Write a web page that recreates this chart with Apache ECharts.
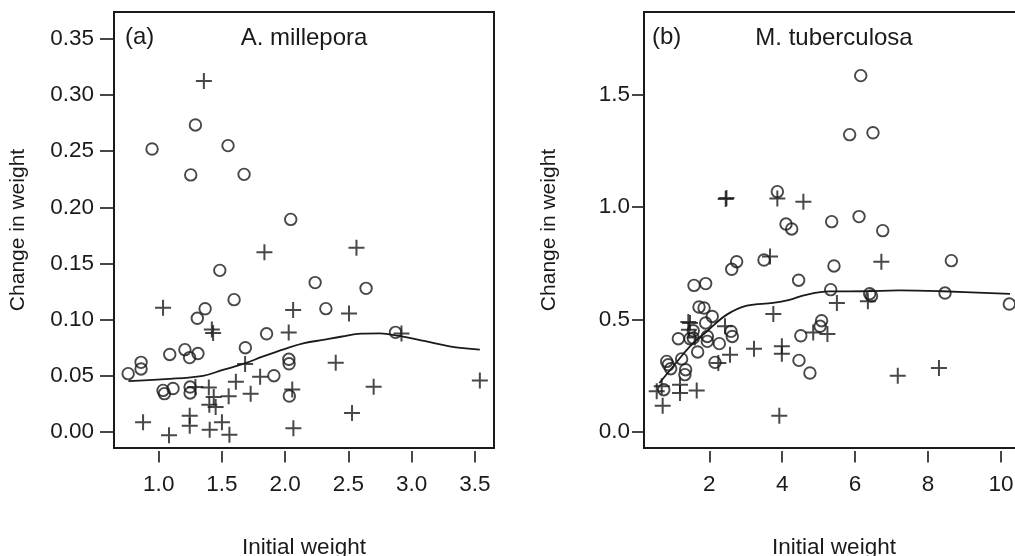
<!DOCTYPE html>
<html>
<head>
<meta charset="utf-8">
<script src="https://cdn.jsdelivr.net/npm/echarts@6/dist/echarts.min.js"></script>
<style>html,body{margin:0;padding:0;background:#fff;}#c{width:1015px;height:556px;}</style>
</head>
<body>
<div id="c"></div>
<script>
// Panel (a) A. millepora
const aCircles = [[0.947,0.252],[1.29,0.2734],[1.548,0.255],[1.253,0.2289],[1.675,0.2294],[2.044,0.1893],[1.483,0.1439],[2.237,0.133],[2.64,0.1279],[1.596,0.1178],[1.367,0.1097],[1.305,0.1012],[2.322,0.1098],[1.853,0.0874],[2.873,0.0887],[1.685,0.075],[1.087,0.069],[1.207,0.0733],[1.244,0.0662],[1.31,0.0698],[0.86,0.062],[0.86,0.0561],[0.758,0.0519],[2.029,0.0647],[2.031,0.0607],[1.911,0.0501],[2.033,0.032],[1.034,0.037],[1.045,0.0341],[1.113,0.0387],[1.248,0.040],[1.248,0.0347]];
const aPlus = [[1.357,0.3125],[1.836,0.160],[2.564,0.1641],[1.034,0.1105],[1.42,0.0912],[1.43,0.0882],[2.063,0.1085],[2.505,0.1055],[2.028,0.0885],[2.92,0.0877],[3.54,0.0458],[1.683,0.0605],[2.40,0.0617],[1.61,0.0448],[1.802,0.0492],[1.727,0.034],[1.553,0.0317],[1.435,0.0312],[2.70,0.0403],[2.056,0.0377],[2.529,0.0169],[2.065,0.0032],[1.29,0.040],[1.396,0.0395],[1.40,0.0243],[1.45,0.0223],[1.245,0.0145],[1.245,0.0056],[0.876,0.0086],[1.081,-0.003],[1.403,0.002],[1.50,0.0086],[1.559,-0.0024]];
const aCurveX = [0.76,1.05,1.35,1.5,1.68,1.82,2.0,2.15,2.3,2.45,2.6,2.75,2.9,3.1,3.3,3.54];
const aCurveY = [0.0452,0.047,0.050,0.055,0.061,0.067,0.074,0.079,0.082,0.085,0.0875,0.0877,0.0855,0.081,0.0762,0.0733];
const aXTicks = [1.0,1.5,2.0,2.5,3.0,3.5];
const aYTicks = [0.00,0.05,0.10,0.15,0.20,0.25,0.30,0.35];

// Panel (b) M. tuberculosa
const bCircles = [[6.154,1.585],[5.85,1.3225],[6.49,1.331],[3.866,1.069],[4.104,0.925],[4.26,0.903],[5.357,0.9355],[6.107,0.958],[6.757,0.8955],[3.50,0.765],[8.64,0.762],[2.75,0.7575],[2.614,0.7235],[5.42,0.7385],[1.58,0.652],[1.90,0.66],[4.45,0.675],[5.33,0.633],[6.40,0.615],[6.45,0.605],[8.466,0.618],[10.23,0.569],[5.08,0.495],[5.04,0.47],[4.51,0.428],[4.46,0.3185],[4.76,0.2624],[2.156,0.3096],[2.275,0.393],[2.595,0.4475],[2.63,0.425],[1.717,0.556],[1.855,0.5515],[2.08,0.514],[1.90,0.485],[1.56,0.45],[1.56,0.418],[1.47,0.415],[1.15,0.415],[1.945,0.425],[1.945,0.403],[1.68,0.356],[0.83,0.314],[0.875,0.299],[0.94,0.2815],[1.24,0.325],[1.35,0.277],[1.33,0.255],[0.75,0.188]];
const bPlus = [[2.45,1.036],[2.47,1.041],[3.866,1.039],[4.58,1.024],[3.665,0.780],[6.72,0.7575],[6.35,0.581],[5.50,0.574],[3.756,0.525],[4.85,0.443],[5.24,0.436],[3.226,0.3705],[3.99,0.381],[3.99,0.348],[7.17,0.2504],[8.30,0.2847],[3.92,0.0725],[2.568,0.344],[2.247,0.307],[2.43,0.47],[1.424,0.489],[1.47,0.485],[1.44,0.455],[1.6,0.42],[0.557,0.181],[0.694,0.203],[1.196,0.21],[1.196,0.1735],[1.654,0.185],[0.72,0.117]];
const bCurveX = [0.63,1.0,1.47,1.93,2.48,3.03,3.75,4.2,4.65,5.3,6.3,7.2,8.4,10.25];
const bCurveY = [0.218,0.29,0.381,0.447,0.522,0.562,0.574,0.588,0.61,0.625,0.626,0.63,0.626,0.614];
const bXTicks = [2,4,6,8,10];
const bYTicks = [0.0,0.5,1.0,1.5];

const INK = '#1a1a1a';
const FONT = 'Liberation Sans, Arial, Helvetica, sans-serif';
const PLUS = 'path://M0,8L16,8M8,0L8,16';

function zip(xs, ys){ return xs.map((x,i)=>[x, ys[i]]); }

function xAxisCfg(idx, min, max, ticks, dec){
  return {
    type:'value', gridIndex:idx, min:min, max:max, offset:3,
    name:'Initial weight', nameLocation:'middle', nameGap:85,
    nameTextStyle:{color:INK, fontSize:22.5, fontFamily:FONT},
    axisLine:{show:false, onZero:false},
    splitLine:{show:false},
    axisTick:{show:true, inside:false, length:11.5, customValues:ticks, lineStyle:{color:INK, width:1.6}},
    axisLabel:{show:true, margin:22, customValues:ticks, color:INK, fontSize:22.5, fontFamily:FONT,
      formatter:(v)=>v.toFixed(dec)}
  };
}
function yAxisCfg(idx, min, max, ticks, dec, tickLen, margin, gap){
  return {
    type:'value', gridIndex:idx, min:min, max:max,
    name:'Change in weight', nameLocation:'middle', nameGap:gap, nameRotate:90,
    nameTextStyle:{color:INK, fontSize:21, fontFamily:FONT},
    axisLine:{show:false, onZero:false},
    splitLine:{show:false},
    axisTick:{show:true, inside:false, length:tickLen, customValues:ticks, lineStyle:{color:INK, width:1.6}},
    axisLabel:{show:true, margin:margin, customValues:ticks, color:INK, fontSize:22.5, fontFamily:FONT,
      formatter:(v)=>v.toFixed(dec)}
  };
}
function circleSeries(idx, data){
  return {type:'scatter', xAxisIndex:idx, yAxisIndex:idx, data:data, symbol:'circle', symbolSize:11.5,
    itemStyle:{color:'rgba(0,0,0,0)', borderColor:INK, borderWidth:1.9}, silent:true, z:3};
}
function plusSeries(idx, data){
  return {type:'scatter', xAxisIndex:idx, yAxisIndex:idx, data:data, symbol:PLUS, symbolSize:16,
    itemStyle:{color:'none', borderColor:INK, borderWidth:2}, silent:true, z:3};
}
function curveSeries(idx, data){
  return {type:'line', xAxisIndex:idx, yAxisIndex:idx, data:data, smooth:0.4, showSymbol:false,
    lineStyle:{color:INK, width:1.8}, silent:true, z:2};
}

const chart = echarts.init(document.getElementById('c'), null, {renderer:'canvas'});
chart.setOption({
  animation:false,
  backgroundColor:'#ffffff',
  grid:[
    {left:114, top:12, width:380, height:436, show:true, borderColor:INK, borderWidth:2, backgroundColor:'transparent', outerBoundsMode:'none', containLabel:false},
    {left:644, top:12, width:380, height:436, show:true, borderColor:INK, borderWidth:2, backgroundColor:'transparent', outerBoundsMode:'none', containLabel:false}
  ],
  xAxis:[
    xAxisCfg(0, 0.646, 3.652, aXTicks, 1),
    xAxisCfg(1, 0.208, 10.633, bXTicks, 0)
  ],
  yAxis:[
    yAxisCfg(0, -0.0143, 0.374, aYTicks, 2, 14, 20, 85),
    yAxisCfg(1, -0.0712, 1.868, bYTicks, 1, 12, 14, 84)
  ],
  graphic:[
    {type:'text', x:125, y:37, style:{text:'(a)', font:'24px '+FONT, fill:INK, textVerticalAlign:'middle'}},
    {type:'text', x:304, y:38, style:{text:'A. millepora', font:'24px '+FONT, fill:INK, textAlign:'center', textVerticalAlign:'middle'}},
    {type:'text', x:652, y:37, style:{text:'(b)', font:'24px '+FONT, fill:INK, textVerticalAlign:'middle'}},
    {type:'text', x:834, y:38, style:{text:'M. tuberculosa', font:'24px '+FONT, fill:INK, textAlign:'center', textVerticalAlign:'middle'}}
  ],
  series:[
    circleSeries(0, aCircles),
    plusSeries(0, aPlus),
    curveSeries(0, zip(aCurveX, aCurveY)),
    circleSeries(1, bCircles),
    plusSeries(1, bPlus),
    curveSeries(1, zip(bCurveX, bCurveY))
  ]
});
</script>
</body>
</html>
